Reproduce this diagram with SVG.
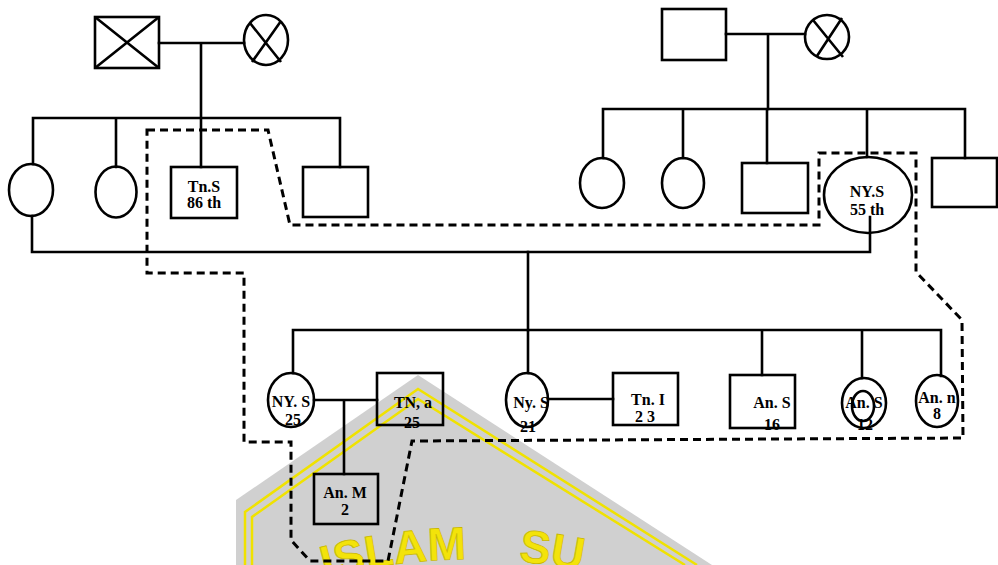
<svg xmlns="http://www.w3.org/2000/svg" width="998" height="565" viewBox="0 0 998 565">
<style>
.s{fill:none;stroke:#000;stroke-width:2.6}
.c{fill:none;stroke:#000;stroke-width:2.6;stroke-linecap:square}
.d{fill:none;stroke:#000;stroke-width:3;stroke-dasharray:8 5}
.t{font-family:"Liberation Serif","Times New Roman",serif;font-size:16px;font-weight:bold;text-anchor:middle;fill:#000}
.wm{fill:none;stroke:#f0e200;stroke-width:2.5}
</style>
<rect width="998" height="565" fill="#fff"/>
<g id="watermark">
<polygon points="236,565 236,500 418,375 712,565" fill="#d0d0d0"/>
<polyline class="wm" points="245,565 245,512 418,389 697,565"/>
<polyline class="wm" points="252,565 252,517 418,399 685,565"/>
<path id="arc" d="M270,597 A550,550 0 0 1 670,597" fill="none"/>
<text font-family="'Liberation Sans',Arial,sans-serif" font-size="46" font-weight="bold" fill="#f3e30a" stroke="#c9b800" stroke-width="0.8"><textPath href="#arc" startOffset="58">ISLAM<tspan dx="52">SU</tspan></textPath></text>
</g>
<g id="connectors">
<path class="c" d="M159,43H244M201,43V167"/>
<path class="c" d="M33,118H340M33,118V164M116,118V167M340,118V167"/>
<path class="c" d="M726,34H805M768,34V109"/>
<path class="c" d="M603,109H965M603,109V158M683,109V158M767,109V163M867,109V157M965,109V158"/>
<path class="c" d="M32,216V252H870V217"/>
<path class="c" d="M528,252V330"/>
<path class="c" d="M293,330H941M293,330V373M528,330V373M762,330V375M862,330V378M941,330V376"/>
<path class="c" d="M314,400H377M344,400V474"/>
<path class="c" d="M549,399H613"/>
<path class="d" d="M147,130L268,130L290,225L819,225L819,153L916,153L916,272L962,320L963,438L412,441L388,561L310,561L291,540L291,442L244,442L244,273L147,273Z"/>
</g>
<g id="g1-grandfather-left"><rect class="s" x="95" y="17" width="64" height="51"/><path class="s" d="M95,17L159,68M159,17L95,68"/></g>
<g id="g1-grandmother-left"><ellipse class="s" cx="266" cy="40" rx="22" ry="25"/><path class="s" d="M250,23L281,62M281,21L252,62"/></g>
<g id="g1-grandfather-right"><rect class="s" x="662" y="9" width="64" height="51"/></g>
<g id="g1-grandmother-right"><ellipse class="s" cx="827" cy="37" rx="22" ry="22"/><path class="s" d="M813,20L843,57M842,18L817,56"/></g>
<g id="g2-f1"><ellipse class="s" cx="31" cy="190" rx="22" ry="26"/></g>
<g id="g2-f2"><ellipse class="s" cx="116" cy="192" rx="20.5" ry="25.5"/></g>
<g id="g2-tns"><rect class="s" x="171" y="167" width="66" height="51"/><text class="t" x="204" y="192">Tn.S</text><text class="t" x="204" y="208">86 th</text></g>
<g id="g2-m2"><rect class="s" x="303" y="167" width="65" height="50"/></g>
<g id="g2-f3"><ellipse class="s" cx="602" cy="183" rx="22" ry="25"/></g>
<g id="g2-f4"><ellipse class="s" cx="683" cy="183" rx="21" ry="25"/></g>
<g id="g2-m3"><rect class="s" x="742" y="163" width="66" height="50"/></g>
<g id="g2-nys"><ellipse class="s" cx="868" cy="195" rx="44" ry="38"/><text class="t" x="867" y="197">NY.S</text><text class="t" x="867" y="215">55 th</text></g>
<g id="g2-m4"><rect class="s" x="932" y="158" width="65" height="49"/></g>
<g id="g3-nys25"><ellipse class="s" cx="291" cy="400" rx="23" ry="27"/><text class="t" x="291" y="407">NY. S</text><text class="t" x="293" y="425">25</text></g>
<g id="g3-tna"><rect class="s" x="377" y="373" width="66" height="52"/><text class="t" x="413" y="408">TN, a</text><text class="t" x="412" y="428">25</text></g>
<g id="g4-anm"><rect class="s" x="314" y="474" width="64" height="50"/><text class="t" x="345" y="498">An. M</text><text class="t" x="345" y="515">2</text></g>
<g id="g3-ny"><ellipse class="s" cx="527" cy="400" rx="21" ry="27"/><text class="t" x="531" y="408">Ny. S</text><text class="t" x="528" y="432">21</text></g>
<g id="g3-tni"><rect class="s" x="613" y="373" width="65" height="52"/><text class="t" x="648" y="405">Tn. I</text><text class="t" x="645" y="422">2 3</text></g>
<g id="g3-ans16"><rect class="s" x="730" y="375" width="65" height="53"/><text class="t" x="772" y="408">An. S</text><text class="t" x="772" y="430">16</text></g>
<g id="g3-ans12"><ellipse class="s" cx="864" cy="403" rx="22" ry="25"/><ellipse class="s" cx="863" cy="406" rx="11" ry="15"/><text class="t" x="864" y="408">An. S</text><text class="t" x="865" y="430">12</text></g>
<g id="g3-ann8"><ellipse class="s" cx="937" cy="401" rx="21" ry="26"/><text class="t" x="937" y="403">An. n</text><text class="t" x="937" y="419">8</text></g>
</svg>
